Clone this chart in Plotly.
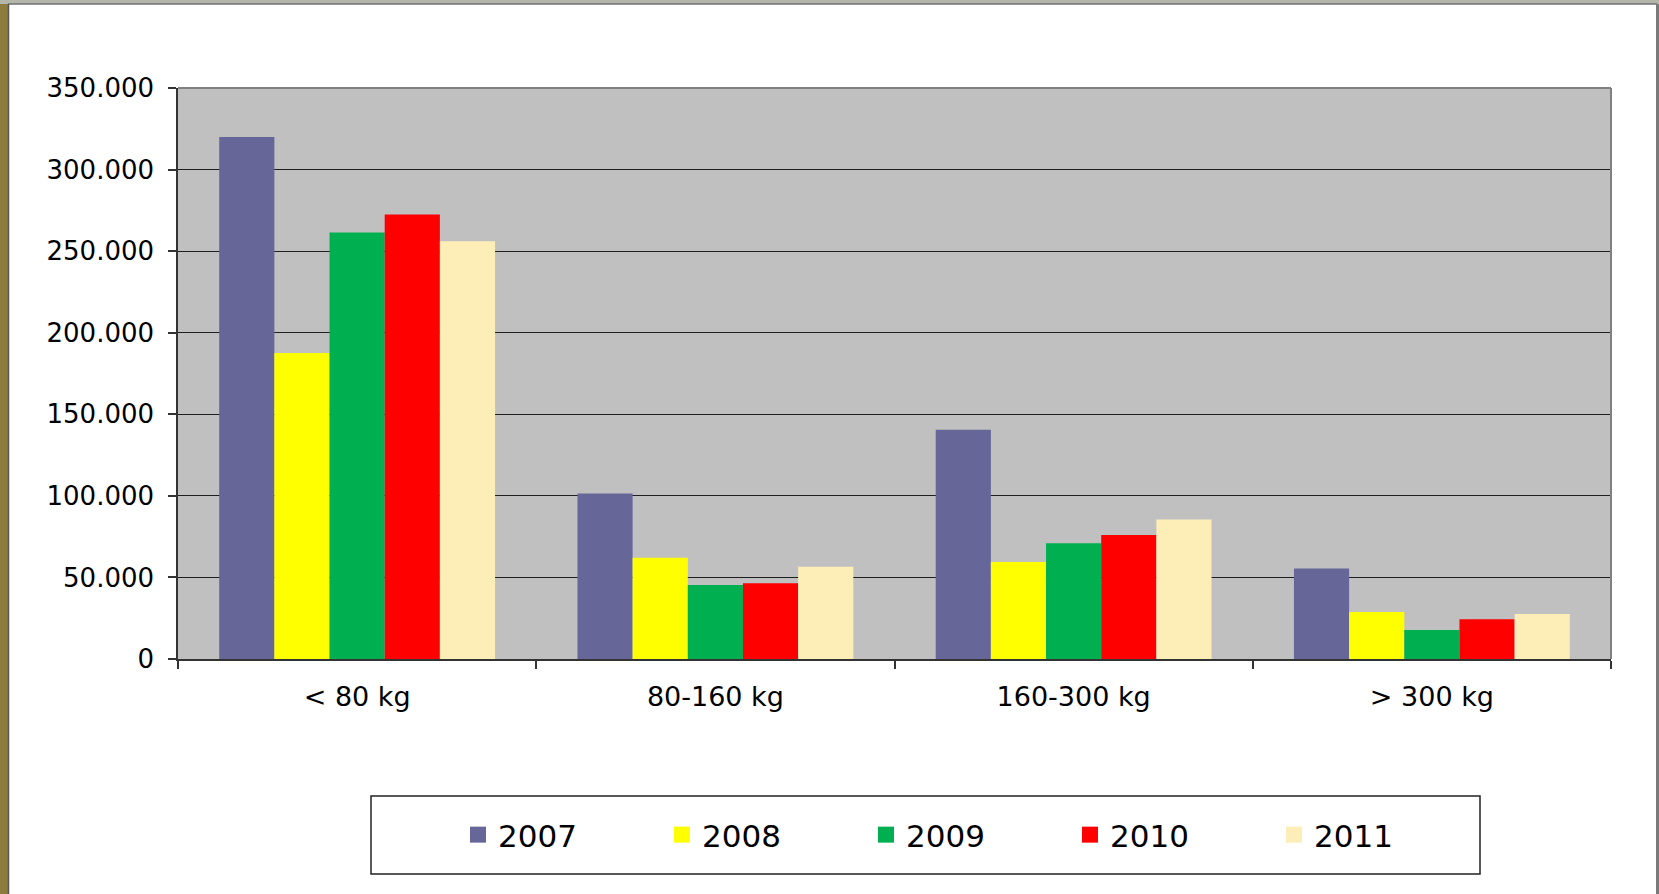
import plotly.graph_objects as go

categories = ["< 80 kg", "80-160 kg", "160-300 kg", "> 300 kg"]
years = ["2007", "2008", "2009", "2010", "2011"]
values_2007 = [320000, 101500, 140500, 55500]
values_2008 = [187500, 62000, 59500, 28800]
values_2009 = [261500, 45300, 71000, 17800]
values_2010 = [272500, 46500, 76000, 24300]
values_2011 = [256000, 56500, 85500, 27600]
series = [values_2007, values_2008, values_2009, values_2010, values_2011]
colors = ["#666699", "#ffff00", "#00b050", "#ff0000", "#fdeeb8"]

W, H = 1659, 894
L, R, T, B = 178, 48, 88, 235
pw, ph = W - L - R, H - T - B


def px_x(p):
    return (p - L) / pw


def px_y(p):
    return (H - B - p) / ph


fig = go.Figure()
for name, vals, col in zip(years, series, colors):
    fig.add_trace(go.Bar(x=categories, y=vals, name=name, marker_color=col,
                         marker_line_width=0, showlegend=False))
for name, col in zip(years, colors):
    fig.add_trace(go.Scatter(x=[None], y=[None], mode="markers", name=name,
                             marker=dict(symbol="square", size=17, color=col),
                             showlegend=True))

shapes = [
    # plot-area top and right borders
    dict(type="line", xref="paper", yref="paper", x0=0, x1=1, y0=1, y1=1,
         line=dict(color="#808080", width=2)),
    dict(type="line", xref="paper", yref="paper", x0=1, x1=1, y0=0, y1=1,
         line=dict(color="#808080", width=2)),
    # legend box
    dict(type="rect", xref="paper", yref="paper",
         x0=px_x(371), x1=px_x(1480), y0=px_y(874), y1=px_y(796),
         line=dict(color="#222222", width=1.5)),
    # background frame (outside the white panel)
    dict(type="rect", xref="paper", yref="paper", x0=px_x(0), x1=px_x(8),
         y0=px_y(894), y1=px_y(0), fillcolor="#8c7d3e", line_width=0),
    dict(type="rect", xref="paper", yref="paper", x0=px_x(0), x1=px_x(1659),
         y0=px_y(4), y1=px_y(0), fillcolor="#b4b6aa", line_width=0),
    dict(type="line", xref="paper", yref="paper", x0=px_x(8), x1=px_x(1657),
         y0=px_y(4), y1=px_y(4), line=dict(color="#707070", width=1.5)),
    dict(type="line", xref="paper", yref="paper", x0=px_x(8.5), x1=px_x(8.5),
         y0=px_y(894), y1=px_y(4), line=dict(color="#555555", width=1.5)),
    dict(type="rect", xref="paper", yref="paper", x0=px_x(1656), x1=px_x(1659),
         y0=px_y(894), y1=px_y(4), fillcolor="#7a7a7a", line_width=0),
]

fig.update_layout(
    width=W, height=H,
    margin=dict(l=L, r=R, t=T, b=B, pad=0),
    paper_bgcolor="white",
    plot_bgcolor="#c0c0c0",
    barmode="group",
    bargap=0.23,
    bargroupgap=0,
    separators=",.",
    font=dict(family="DejaVu Sans", color="black"),
    shapes=shapes,
    legend=dict(orientation="h", xanchor="left", x=px_x(458),
                yanchor="middle", y=px_y(835),
                font=dict(family="DejaVu Sans", size=31),
                itemwidth=30, entrywidth=159, entrywidthmode="pixels",
                bgcolor="rgba(0,0,0,0)", borderwidth=0,
                itemclick=False),
    xaxis=dict(showline=True, linecolor="#333333", linewidth=1.5,
               ticks="outside", tickson="boundaries", ticklen=8,
               tickcolor="#333333", tickwidth=1.5,
               tickfont=dict(family="DejaVu Sans", size=27),
               ticklabelstandoff=13, showgrid=False),
    yaxis=dict(range=[0, 350000], dtick=50000, tickformat=",d",
               showline=True, linecolor="#333333", linewidth=1.5,
               ticks="outside", ticklen=8, tickcolor="#333333", tickwidth=1.5,
               tickfont=dict(family="DejaVu Sans", size=26),
               ticklabelstandoff=9,
               showgrid=True, gridcolor="#1e1e1e", gridwidth=1.2,
               zeroline=False),
)

fig.write_html("out.html",
               config={"displayModeBar": False},
               post_script="document.body.style.margin='0';")
